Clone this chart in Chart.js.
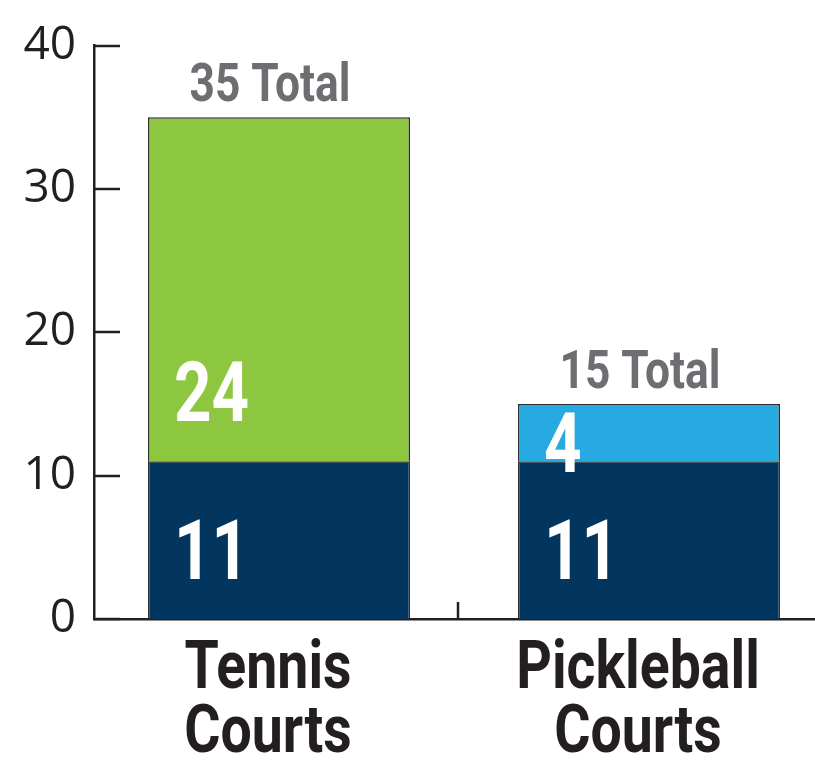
<!DOCTYPE html>
<html>
<head>
<meta charset="utf-8">
<script src="https://cdn.jsdelivr.net/npm/chart.js@4.4.1/dist/chart.umd.min.js"></script>
<style>
  html, body { margin: 0; padding: 0; background: #fff; overflow: hidden; }
  #wrap { width: 815px; height: 760px; overflow: hidden; }
</style>
</head>
<body>
<div id="wrap"><canvas id="myChart" width="834" height="760"></canvas></div>
<script>
// data
const categories = [['Tennis', 'Courts'], ['Pickleball', 'Courts']];
const sharedCourts = [11, 11];
const tennisOnly = [24, null];
const pickleballOnly = [null, 4];
const yTicks = [0, 10, 20, 30, 40];

const navy = '#02365e';
const green = '#8dc63f';
const blue = '#27aae1';
const ink = '#231f20';
const grey = '#6d6e71';

// condensed bold text (no condensed web font available, so squeeze Roboto)
function condText(ctx, text, x, y, size, color, align, sx) {
  ctx.save();
  ctx.translate(x, y);
  ctx.scale(sx || 0.8, 1);
  ctx.font = 'bold ' + size + 'px Roboto, "Liberation Sans", sans-serif';
  ctx.fillStyle = color;
  ctx.textAlign = align;
  ctx.textBaseline = 'alphabetic';
  ctx.fillText(text, 0, 0);
  ctx.restore();
}

const decorations = {
  id: 'decorations',
  afterDatasetsDraw(chart) {
    const ctx = chart.ctx;
    const xs = chart.scales.x;
    const ys = chart.scales.y;

    // inward tick marks
    ctx.save();
    ctx.strokeStyle = ink;
    ctx.lineWidth = 2.5;
    yTicks.forEach(v => {
      const py = Math.round(ys.getPixelForValue(v));
      ctx.beginPath();
      ctx.moveTo(xs.left, py);
      ctx.lineTo(xs.left + 26, py);
      ctx.stroke();
    });
    const mid = (xs.getPixelForValue(0) + xs.getPixelForValue(1)) / 2 - 6;
    ctx.beginPath();
    ctx.moveTo(mid, ys.bottom);
    ctx.lineTo(mid, ys.bottom - 17);
    ctx.stroke();
    ctx.restore();

    // value labels inside segments
    chart.data.datasets.forEach((ds, di) => {
      const meta = chart.getDatasetMeta(di);
      meta.data.forEach((bar, i) => {
        const v = ds.data[i];
        if (v == null) return;
        const top = Math.min(bar.y, bar.base);
        const bottom = Math.max(bar.y, bar.base);
        const y = Math.max(bottom - 40, top + 68);
        condText(ctx, String(v), bar.x - bar.width / 2 + 26, y, 84, '#ffffff', 'left', 0.78);
      });
    });

    // totals above each stack
    chart.data.labels.forEach((lab, i) => {
      let total = 0;
      let top = Infinity;
      let cx = 0;
      chart.data.datasets.forEach((ds, di) => {
        const v = ds.data[i];
        if (v == null) return;
        total += v;
        const bar = chart.getDatasetMeta(di).data[i];
        top = Math.min(top, bar.y);
        cx = bar.x;
      });
      condText(ctx, total + ' Total', cx - 9, top - 16, 54, grey, 'center', 0.82);
    });

    // category labels
    chart.data.labels.forEach((lines, i) => {
      const cx = xs.getPixelForValue(i) - 11;
      lines.forEach((t, k) => {
        condText(ctx, t, cx, ys.bottom + 69 + k * 64, 66, ink, 'center', 0.84);
      });
    });
  }
};

const chart = new Chart(document.getElementById('myChart').getContext('2d'), {
  type: 'bar',
  data: {
    labels: categories,
    datasets: [
      {
        label: 'Shared',
        data: sharedCourts,
        backgroundColor: navy,
        borderColor: '#2b2b2b',
        borderWidth: 1.5,
        borderSkipped: 'bottom'
      },
      {
        label: 'Tennis only',
        data: tennisOnly,
        backgroundColor: green,
        borderColor: '#2b2b2b',
        borderWidth: 1.5,
        borderSkipped: 'bottom'
      },
      {
        label: 'Pickleball only',
        data: pickleballOnly,
        backgroundColor: blue,
        borderColor: '#2b2b2b',
        borderWidth: 1.5,
        borderSkipped: 'bottom'
      }
    ]
  },
  options: {
    responsive: false,
    maintainAspectRatio: false,
    animation: false,
    layout: { padding: { top: 43, left: 0, right: 0, bottom: 0 } },
    plugins: {
      legend: { display: false },
      tooltip: { enabled: false }
    },
    datasets: {
      bar: { barPercentage: 0.8, categoryPercentage: 0.885, skipNull: false }
    },
    scales: {
      x: {
        stacked: true,
        grid: { display: false, drawTicks: false },
        border: { color: ink, width: 2.5 },
        ticks: { display: false },
        afterFit(scale) { scale.height = 141; }
      },
      y: {
        stacked: true,
        min: 0,
        max: 40,
        afterBuildTicks(scale) { scale.ticks = yTicks.map(v => ({ value: v })); },
        grid: { display: false, drawTicks: false },
        border: { color: ink, width: 2.5 },
        ticks: {
          padding: 18,
          color: ink,
          font: { family: '"Open Sans", "Noto Sans", sans-serif', size: 46 }
        },
        afterFit(scale) { scale.width = 94; }
      }
    }
  },
  plugins: [decorations]
});
</script>
</body>
</html>
